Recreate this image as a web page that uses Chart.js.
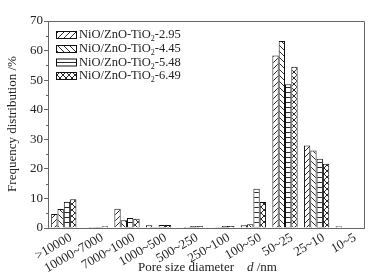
<!DOCTYPE html>
<html>
<head>
<meta charset="utf-8">
<script src="https://cdn.jsdelivr.net/npm/chart.js@4.4.0/dist/chart.umd.min.js"></script>
<style>
  html, body { margin: 0; padding: 0; background: #fff; }
  #wrap { width: 379px; height: 279px; position: relative; }
</style>
</head>
<body>
<div id="wrap"><canvas id="grafico"></canvas></div>
<script>
// pore size classes (d /nm)
const poros = [">10000", "10000~7000", "7000~1000", "1000~500", "500~250", "250~100", "100~50", "50~25", "25~10", "10~5"];

// frequency distribution /% per sample
const serie295 = [4.7, 0.2, 6.5, 0.9, 0.0, 0.0, 0.9, 58.3, 27.9, 0.6];
const serie445 = [6.4, 0.3, 2.6, 0.3, 0.3, 0.3, 1.3, 63.2, 26.2, 0.0];
const serie548 = [8.9, 0.3, 3.4, 1.0, 0.7, 0.7, 13.3, 48.6, 23.4, 0.0];
const serie649 = [9.7, 0.6, 3.1, 1.0, 0.7, 0.7, 8.8, 54.5, 21.7, 0.0];

const sufijos = ["2.95", "4.45", "5.48", "6.49"];
const yMax = 70;
const yPaso = 10;

const fuente = '"Liberation Serif", "Times New Roman", serif';
const tinta = "#222";
const gris = "#666";

// hatch patterns
function patron(tipo){
  const c = document.createElement("canvas");
  const n = tipo === "h" ? 5 : 6;
  c.width = n; c.height = n;
  const g = c.getContext("2d");
  g.fillStyle = "#fff";
  g.fillRect(0, 0, n, n);
  g.strokeStyle = "#111";
  g.lineWidth = 0.9;
  g.beginPath();
  if (tipo === "/" || tipo === "x") {
    g.moveTo(-1, n + 1); g.lineTo(n + 1, -1);
  }
  if (tipo === "\\" || tipo === "x") {
    g.moveTo(-1, -1); g.lineTo(n + 1, n + 1);
  }
  if (tipo === "h") {
    g.moveTo(0, 2.5); g.lineTo(n, 2.5);
  }
  g.stroke();
  return g.createPattern(c, "repeat");
}

const rellenos = [patron("/"), patron("\\"), patron("h"), patron("x")];
const valores = [serie295, serie445, serie548, serie649];

const datasets = valores.map((v, i) => ({
  label: "NiO/ZnO-TiO2-" + sufijos[i],
  data: v,
  backgroundColor: rellenos[i],
  borderColor: "#111",
  borderWidth: 1,
  categoryPercentage: 0.8,
  barPercentage: 1.0
}));

// frame, minor ticks, axis titles and legend
const extras = {
  id: "extras",
  afterDatasetsDraw(chart){
    const ctx = chart.ctx;
    const a = chart.chartArea;
    const y = chart.scales.y;
    ctx.save();
    ctx.strokeStyle = gris;
    ctx.lineWidth = 1;
    ctx.beginPath();
    ctx.moveTo(a.left, a.top + 0.5); ctx.lineTo(a.right + 0.5, a.top + 0.5);
    ctx.lineTo(a.right + 0.5, a.bottom);
    // minor ticks
    for (let v = yPaso / 2; v < yMax; v += yPaso) {
      const py = Math.round(y.getPixelForValue(v)) + 0.5;
      ctx.moveTo(a.left - 2, py); ctx.lineTo(a.left, py);
    }
    ctx.stroke();

    // y title
    ctx.fillStyle = tinta;
    ctx.font = "13px " + fuente;
    ctx.save();
    ctx.translate(13, 124);
    ctx.rotate(-Math.PI / 2);
    ctx.textAlign = "center";
    ctx.textBaseline = "middle";
    ctx.fillText("Frequency distribution /%", 0, 0);
    ctx.restore();

    // x title
    ctx.textAlign = "left";
    ctx.textBaseline = "middle";
    ctx.fillText("Pore size diameter", 138, 268);
    ctx.font = "italic 13px " + fuente;
    ctx.fillText("d", 247, 268);
    const wd = ctx.measureText("d").width;
    ctx.font = "13px " + fuente;
    ctx.fillText(" /nm", 247 + wd, 268);

    // legend
    const filas = [35, 49, 62.5, 76];
    chart.data.datasets.forEach((ds, i) => {
      const cy = filas[i];
      ctx.fillStyle = ds.backgroundColor;
      ctx.fillRect(56, cy - 3.5, 20, 7);
      ctx.strokeStyle = "#111";
      ctx.strokeRect(56.5, cy - 3.5, 20, 7);
      ctx.fillStyle = tinta;
      ctx.font = "12.5px " + fuente;
      let x = 79;
      const t1 = "NiO/ZnO-TiO";
      ctx.fillText(t1, x, cy);
      x += ctx.measureText(t1).width;
      ctx.font = "8px " + fuente;
      ctx.fillText("2", x, cy + 4);
      x += ctx.measureText("2").width;
      ctx.font = "12.5px " + fuente;
      ctx.fillText("-" + sufijos[i], x, cy);
    });
    ctx.restore();
  }
};

new Chart(document.getElementById("grafico"), {
  type: "bar",
  data: { labels: poros, datasets: datasets },
  options: {
    responsive: true,
    maintainAspectRatio: false,
    animation: false,
    layout: { padding: { left: 0, top: 21, right: 15, bottom: 0 } },
    plugins: { legend: { display: false }, tooltip: { enabled: false } },
    scales: {
      x: {
        offset: true,
        grid: { display: false, drawTicks: false },
        border: { display: true, color: gris, width: 1 },
        ticks: {
          autoSkip: false,
          minRotation: 30,
          maxRotation: 30,
          padding: 2,
          labelOffset: 7,
          color: tinta,
          font: { family: fuente, size: 13 }
        },
        afterFit(s){ s.height = 51; }
      },
      y: {
        min: 0,
        max: yMax,
        grid: { drawOnChartArea: false, tickLength: 4, color: gris },
        border: { display: true, color: gris, width: 1 },
        ticks: {
          stepSize: yPaso,
          padding: 1,
          color: tinta,
          font: { family: fuente, size: 13 }
        },
        afterFit(s){ s.width = 48; }
      }
    }
  },
  plugins: [extras]
});
</script>
</body>
</html>
